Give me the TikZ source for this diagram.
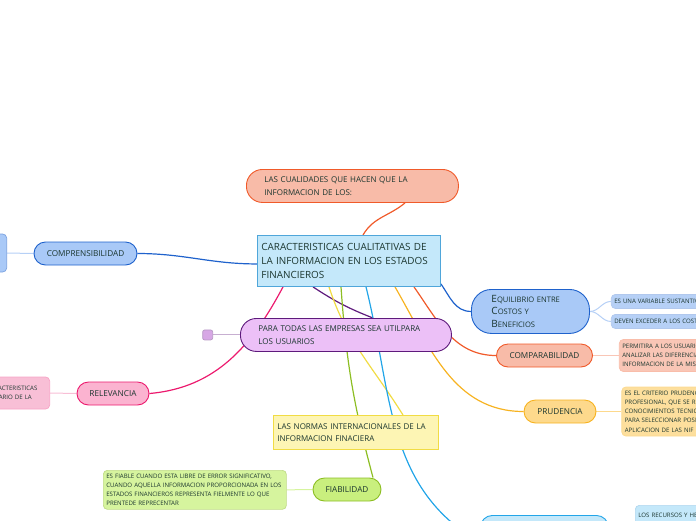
\documentclass[tikz,border=0pt]{standalone}
\usepackage{fontspec}
\setmainfont{Open Sans}
\usetikzlibrary{positioning,backgrounds}
\definecolor{ink}{HTML}{1B362F}
\definecolor{skyfill}{HTML}{C4E8FA}
\definecolor{skyline}{HTML}{4FA6DA}
\definecolor{bluefill}{HTML}{A9C9F7}
\definecolor{blueline}{HTML}{1F62CC}
\definecolor{bluepale}{HTML}{B6D0F6}
\definecolor{salfill}{HTML}{F8BBA8}
\definecolor{salline}{HTML}{F05A2A}
\definecolor{salpale}{HTML}{F9C6B6}
\definecolor{lilfill}{HTML}{ECC0F7}
\definecolor{lilline}{HTML}{5E1A7C}
\definecolor{pinkfill}{HTML}{FBB3D0}
\definecolor{pinkline}{HTML}{EC1A6E}
\definecolor{pinkpale}{HTML}{F8BFD6}
\definecolor{goldfill}{HTML}{FDD98C}
\definecolor{goldline}{HTML}{F7B321}
\definecolor{lemfill}{HTML}{FDF5B4}
\definecolor{lemline}{HTML}{F1DC44}
\definecolor{limefill}{HTML}{C9EF7E}
\definecolor{limeline}{HTML}{8DBE24}
\definecolor{limepale}{HTML}{D6F49E}
\definecolor{cyanline}{HTML}{22A5E8}
\tikzset{
  idea/.style={draw,line width=0.9pt,rounded corners=11.5pt,minimum height=23pt,inner sep=0pt,text=ink,font=\fontsize{8.2}{9}\selectfont},
  bigidea/.style={idea,anchor=north west,align=left,font=\fontsize{8}{12.5}\selectfont},
  note/.style={draw,line width=0.7pt,rounded corners=4pt,inner xsep=3pt,inner ysep=0pt,align=left,text=ink,font=\fontsize{6.1}{9.3}\selectfont},
  link/.style={line width=1.2pt},
  twig/.style={line width=1pt}
}
\newcommand{\capsbig}[1]{{\fontsize{10}{13}\selectfont #1}}
\begin{document}
\begin{tikzpicture}[x=1pt,y=-1pt]
  \useasboundingbox (0,0) rectangle (696,520);
  \clip (0,0) rectangle (696,520);
  \node[draw=skyline,fill=skyfill,line width=0.9pt,anchor=north west,minimum width=183pt,minimum height=51pt,
        inner xsep=4pt,text width=175pt,align=left,text=ink,font=\fontsize{9.9}{14}\selectfont] (car) at (257,235)
        {CARACTERISTICAS CUALITATIVAS DE\\LA INFORMACION EN LOS ESTADOS\\FINANCIEROS};
  \node[bigidea,fill=salfill,draw=salline,minimum width=212pt,minimum height=33pt,rounded corners=16pt,
        inner xsep=18pt,text width=176pt] (cual) at (246,169)
        {LAS CUALIDADES QUE HACEN QUE LA\\INFORMACION DE LOS:};
  \node[idea,fill=bluefill,draw=blueline,minimum width=103pt] (compr) at (85.5,253.5) {COMPRENSIBILIDAD};
  \node[note,fill=bluefill,draw=blueline!60,anchor=east,minimum width=30pt,minimum height=38pt] (comprx) at (7,253) {};
  \node[bigidea,fill=bluefill,draw=blueline,minimum width=118pt,minimum height=44pt,rounded corners=20pt,
        inner xsep=20pt,text width=78pt,font=\fontsize{7.6}{12.5}\selectfont] (equil) at (471,289)
        {\capsbig{E}QUILIBRIO ENTRE\\\capsbig{C}OSTOS Y\\\capsbig{B}ENEFICIOS};
  \node[note,fill=bluepale,draw=blueline!35,minimum width=100pt,minimum height=14pt,text width=120pt,
        right=21pt of equil,yshift=10pt] (sust) {ES UNA VARIABLE SUSTANTIVA};
  \node[note,fill=bluepale,draw=blueline!35,minimum width=100pt,minimum height=14pt,text width=120pt,
        right=21pt of equil,yshift=-10pt] (exce) {DEVEN EXCEDER A LOS COSTOS};
  \node[bigidea,fill=lilfill,draw=lilline,minimum width=211pt,minimum height=33pt,rounded corners=16pt,
        inner xsep=18pt,text width=175pt] (todas) at (240,318)
        {PARA TODAS LAS EMPRESAS SEA UTILPARA\\LOS USUARIOS};
  \node[draw=lilline!45,fill=lilfill!85!lilline,line width=0.7pt,rounded corners=2pt,minimum size=10pt,inner sep=0pt,
        left=27pt of todas] (todasx) {};
  \node[idea,fill=salfill,draw=salline,minimum width=96pt] (compa) at (544.5,355.5) {COMPARABILIDAD};
  \node[note,fill=salpale,draw=salline!40,minimum width=100pt,minimum height=32pt,text width=140pt,
        right=26pt of compa] (compax)
        {PERMITIRA A LOS USUARIOS\\ANALIZAR LAS DIFERENCIAS\\INFORMACION DE LA MISMA};
  \node[idea,fill=goldfill,draw=goldline,minimum width=72pt] (prud) at (560,411.5) {PRUDENCIA};
  \node[note,fill=goldfill!85!white,draw=goldline!50,minimum width=100pt,minimum height=49pt,text width=140pt,
        right=25pt of prud] (prudx)
        {ES EL CRITERIO PRUDENCIAL\\PROFESIONAL, QUE SE REQUIERE\\CONOCIMIENTOS TECNICOS\\PARA SELECCIONAR POSIBLES\\APLICACION DE LAS NIF};
  \node[bigidea,fill=lemfill,draw=lemline,rounded corners=0pt,minimum width=165pt,minimum height=34pt,
        inner xsep=4pt,text width=157pt] (normas) at (273,415)
        {LAS NORMAS INTERNACIONALES DE LA\\INFORMACION FINACIERA};
  \node[idea,fill=pinkfill,draw=pinkline,minimum width=72pt] (relev) at (113,393.5) {RELEVANCIA};
  \node[note,fill=pinkpale,draw=pinkline!40,anchor=east,minimum height=32pt,inner xsep=5pt,
        text width=58pt] (relevx) at (50,393)
        {CARACTERISTICAS\\USUARIO DE LA};
  \node[idea,fill=limefill,draw=limeline,minimum width=68pt] (fiab) at (347,489.5) {FIABILIDAD};
  \node[note,fill=limepale,draw=limeline!55,anchor=north west,minimum width=183pt,minimum height=39pt,text width=177pt] (fiabx) at (103,470)
        {ES FIABLE CUANDO ESTA LIBRE DE ERROR SIGNIFICATIVO,\\CUANDO AQUELLA INFORMACION PROPORCIONADA EN LOS\\ESTADOS FINANCIEROS REPRESENTA FIELMENTE LO QUE\\PRENTEDE REPRECENTAR};
  \node[idea,fill=skyfill,draw=cyanline,anchor=north west,minimum width=128pt,minimum height=30pt,rounded corners=12pt] (recu) at (480,515) {};
  \node[note,fill=skyfill,draw=skyline!45,anchor=north west,minimum width=80pt,minimum height=30pt,text width=120pt] (recux) at (635,505)
        {LOS RECURSOS Y HECHOS\\\ };
  \begin{scope}[on background layer]
    \draw[link,salline] ([xshift=159pt]cual.south west) to[out=-140,in=60] ([xshift=106pt]car.north west);
    \draw[link,blueline] (compr.east) to[out=0,in=180] ([yshift=-3pt]car.west);
    \draw[twig,bluepale] (comprx.east) -- (compr.west);
    \draw[link,blueline] ([yshift=3pt]car.south east) to[out=-55,in=180] (equil.west);
    \draw[twig,bluepale] (equil.east) to[out=0,in=180] (sust.west);
    \draw[twig,bluepale] (equil.east) to[out=0,in=180] (exce.west);
    \draw[link,pinkline] ([xshift=26pt]car.south west) to[out=-118,in=5] (relev.east);
    \draw[twig,pinkpale] (relevx.east) -- (relev.west);
    \draw[link,lilline] ([xshift=56pt]car.south west) to[bend right=6] ([xshift=133pt]todas.north west);
    \draw[twig,lilline!35] (todasx.east) -- (todas.west);
    \draw[link,lemline] ([xshift=72pt]car.south west) to[out=-72,in=122] ([xshift=130pt]normas.north west);
    \draw[link,limeline] ([xshift=84pt]car.south west) to[out=-86,in=105] ([xshift=26pt]fiab.north);
    \draw[twig,limepale] (fiabx.east) -- (fiab.west);
    \draw[link,cyanline] ([xshift=109pt]car.south west) to[out=-76,in=150] ([yshift=-12pt]recu.west);
    \draw[link,goldline] ([xshift=138pt]car.south west) to[out=-60,in=180] (prud.west);
    \draw[twig,goldfill] (prud.east) -- (prudx.west);
    \draw[link,salline] ([xshift=157pt]car.south west) to[out=-55,in=180] (compa.west);
    \draw[twig,salpale] (compa.east) -- (compax.west);
  \end{scope}
\end{tikzpicture}
\end{document}
